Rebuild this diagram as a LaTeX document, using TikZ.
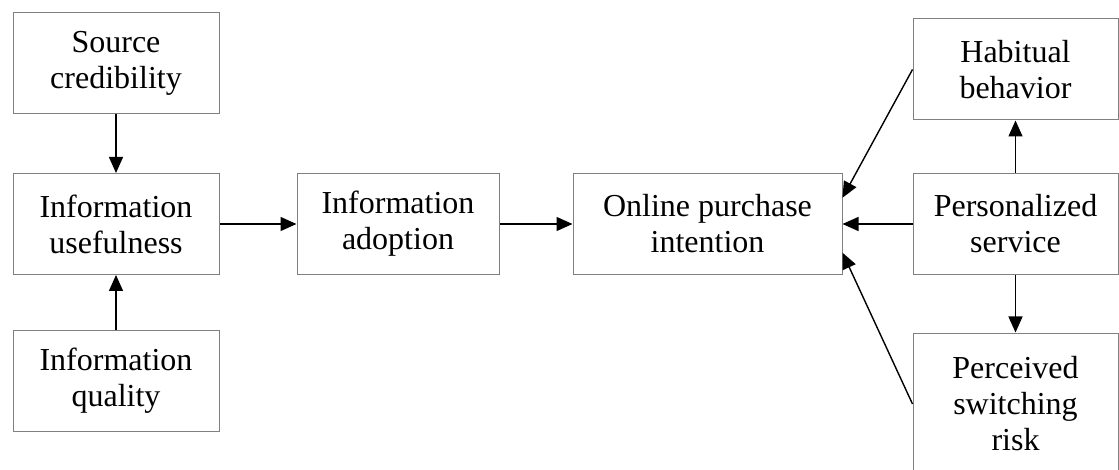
\documentclass[tikz,border=0pt]{standalone}
\usepackage{fontspec}
\setmainfont{Liberation Serif}
\usetikzlibrary{arrows.meta}

\begin{document}
\begin{tikzpicture}[x=1pt,y=-1pt,
		box/.style={draw=gray,line width=1pt,minimum width=206pt,minimum height=101pt,inner sep=0pt,align=center,font=\fontsize{32}{36}\selectfont},
		arr/.style={-{Triangle[length=16pt,width=14pt]},line width=1.4pt}]
		\useasboundingbox (0,0) rectangle (1119,470);
		\node[box] (src) at (116,63.5) {Source\\credibility};
		\node[box] (use) at (116,224) {Information\\usefulness};
		\node[box] (qual) at (116,380.5) {Information\\quality};
		\node[box,minimum width=202pt] (adopt) at (398,224) {Information\\adoption};
		\node[box,minimum width=269pt] (online) at (707.5,224) {Online purchase\\intention};
		\node[box,minimum width=205pt] (habit) at (1015.5,69.5) {Habitual\\behavior};
		\node[box,minimum width=205pt] (pers) at (1015.5,224) {Personalized\\service};
		\node[box,minimum width=205pt,minimum height=142pt] (risk) at (1015.5,404) {Perceived\\switching\\risk};
		\draw[arr] (src) -- (use);
		\draw[arr] (qual) -- (use);
		\draw[arr] (use) -- (adopt);
		\draw[arr] (adopt) -- (online);
		\draw[arr] (pers) -- (online);
		\draw[arr] (pers) -- (habit);
		\draw[arr] (pers) -- (risk);
		\draw[arr] (habit.west) -- (online.11);
		\draw[arr] (risk.west) -- (online.-12);
	\end{tikzpicture}
\end{document}
